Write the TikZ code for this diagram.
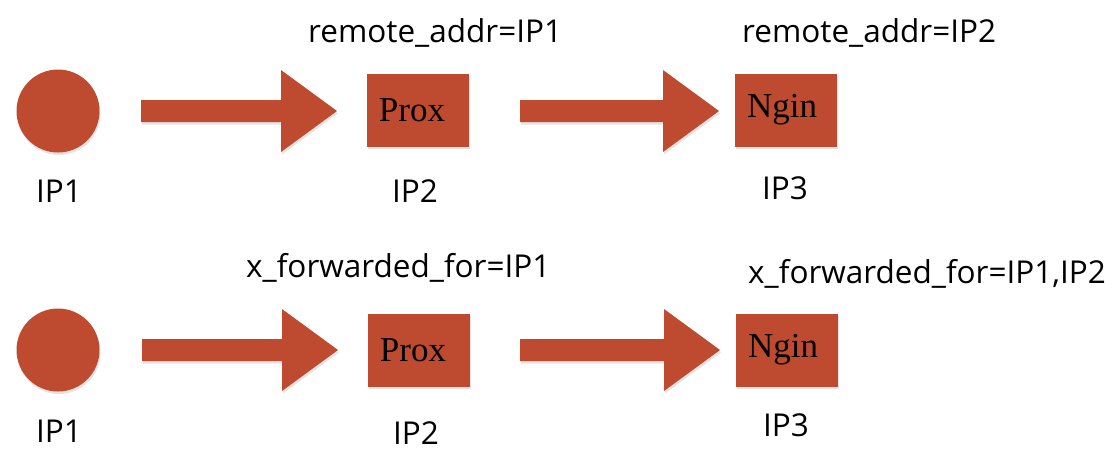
\documentclass[tikz,border=0pt]{standalone}
\usepackage{fontspec}
\setmainfont{Open Sans}
\newfontfamily\serifbox{Liberation Serif}
\usetikzlibrary{shadows}
\definecolor{brick}{RGB}{190,74,47}
\begin{document}
\begin{tikzpicture}[x=1pt,y=-1pt,
  shp/.style={fill=brick, draw=none, drop shadow={opacity=0.22,shadow xshift=1pt,shadow yshift=-2.5pt}},
  boxnode/.style={shp, rectangle, minimum width=102pt, minimum height=73pt, inner sep=0pt},
  boxtext/.style={inner sep=0pt, font=\serifbox\fontsize{35}{35}\selectfont},
  dot/.style={shp, circle, minimum size=83pt, inner sep=0pt},
  lbl/.style={anchor=base west, inner sep=0pt, font=\fontsize{31.5}{32}\selectfont}]
\useasboundingbox[fill=white] (0,0) rectangle (1117,456);

% ---------- top row ----------
\node[dot] (c1) at (58,111) {};
\node[boxnode] (p1) at (418,110) {};
\node[boxtext] (p1t) at ([xshift=-6pt]p1.center) {Prox};
\node[boxnode] (g1) at (786,110) {};
\node[boxtext] (g1t) at ([xshift=-4pt]g1.center) {Ngin};
\fill[shp] (141,100) -- (281,100) -- (281,70) -- (337,111) -- (281,152) -- (281,122) -- (141,122) -- cycle;
\fill[shp] (520,100) -- (663,100) -- (663,70) -- (719,111) -- (663,152) -- (663,122) -- (520,122) -- cycle;
\node[lbl] (t1) at (308,42) {remote\_addr=IP1};
\node[lbl] (t2) at (742,42) {remote\_addr=IP2};
\node[lbl] (a1) at (36,202) {IP1};
\node[lbl] (a2) at (392,202) {IP2};
\node[lbl] (a3) at (762,199) {IP3};

% ---------- bottom row ----------
\node[dot] (c2) at (58,350) {};
\node[boxnode] (p2) at (419,350) {};
\node[boxtext] (p2t) at ([xshift=-6pt]p2.center) {Prox};
\node[boxnode] (g2) at (787,350) {};
\node[boxtext] (g2t) at ([xshift=-4pt]g2.center) {Ngin};
\fill[shp] (142,339) -- (282,339) -- (282,309) -- (338,350) -- (282,391) -- (282,361) -- (142,361) -- cycle;
\fill[shp] (520,339) -- (664,339) -- (664,309) -- (720,350) -- (664,391) -- (664,361) -- (520,361) -- cycle;
\node[lbl] (t3) at (246,277) {x\_forwarded\_for=IP1};
\node[lbl] (t4) at (748,283) {x\_forwarded\_for=IP1,IP2};
\node[lbl] (b1) at (36,442) {IP1};
\node[lbl] (b2) at (393,444) {IP2};
\node[lbl] (b3) at (763,436) {IP3};
\end{tikzpicture}
\end{document}
